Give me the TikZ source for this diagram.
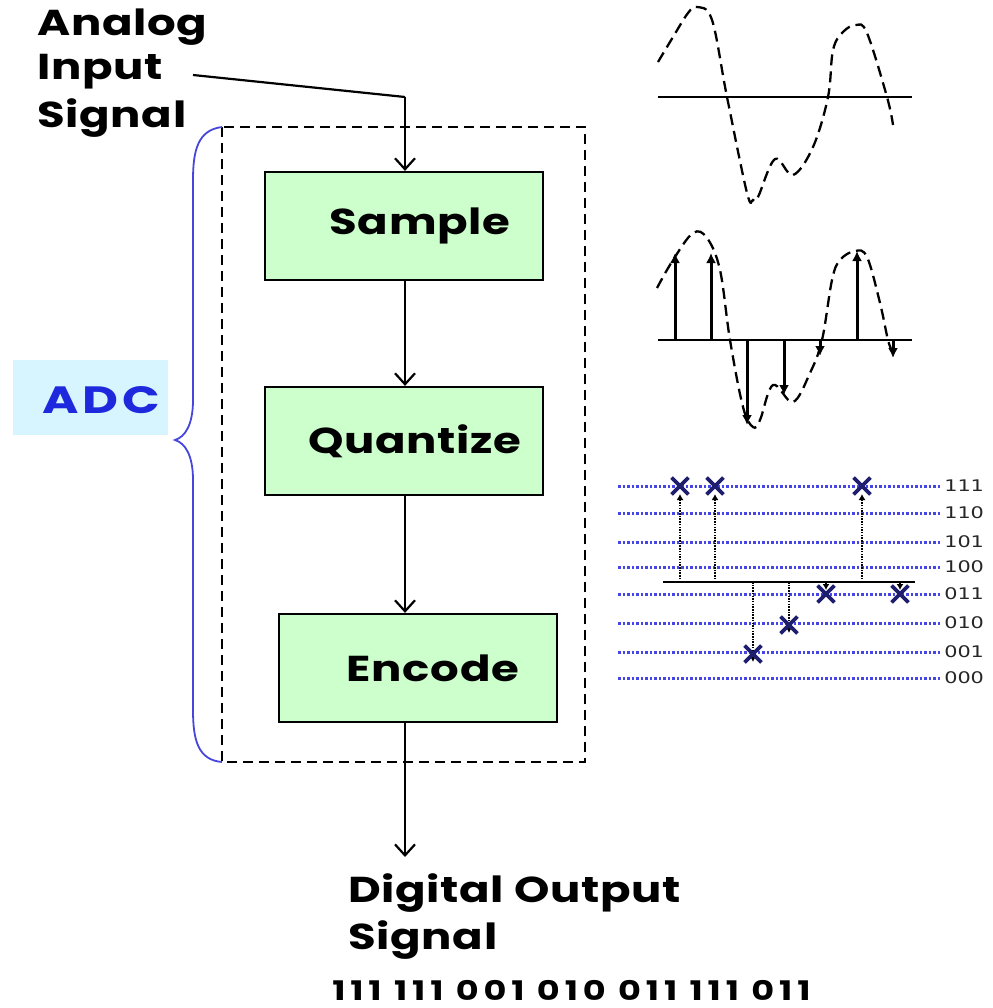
\documentclass[tikz,border=0pt]{standalone}
\usepackage{fontspec}
\setmainfont{Poppins}
\newfontfamily\lab{DejaVu Sans}
\usetikzlibrary{arrows.meta,shapes.misc}
\definecolor{boxgreen}{RGB}{204,255,204}
\definecolor{adcbg}{RGB}{215,245,255}
\definecolor{adcblue}{RGB}{30,40,220}
\definecolor{bracecol}{RGB}{70,70,220}
\definecolor{qblue}{RGB}{70,70,230}
\definecolor{navy}{RGB}{30,30,110}
\tikzset{
  box/.style={draw, line width=2.2pt, fill=boxgreen, minimum width=278pt, minimum height=108pt, inner sep=0pt},
  big/.style={font=\bfseries\fontsize{36}{40}\selectfont\addfontfeatures{LetterSpace=1.5}, xscale=1.25, inner sep=0pt, anchor=west},
  arr/.style={line width=2.2pt, -{Straight Barb[length=11pt,width=20pt,line width=2.2pt]}},
  wave/.style={dash pattern=on 11pt off 6pt, line width=2.3pt},
  axisln/.style={line width=2.3pt},
  stemup/.style={line width=3pt, -{Latex[length=10pt,width=10pt]}},
  qline/.style={qblue, line width=3pt, dash pattern=on 2.5pt off 2pt},
  qarr/.style={line width=2.2pt, dash pattern=on 1.5pt off 1.2pt, -{Latex[length=6pt,width=7pt]}},
  xm/.style={cross out, draw=navy, line width=3.8pt, minimum size=13pt, inner sep=0pt},
  qlab/.style={font=\lab\fontsize{16}{16}\selectfont, xscale=1.3, anchor=west, inner sep=0pt, text=black!85}
}
\begin{document}
\begin{tikzpicture}[x=1pt,y=-1pt]
\useasboundingbox (0,0) rectangle (992,1008);

% Input label
\node[big] (l1) at (37,27) {Analog};
\node[big] (l2) at (37,72) {Input};
\node[big] (l3) at (37,118) {Signal};

% dashed ADC frame
\draw[line width=2.2pt, dash pattern=on 10pt off 6pt] (222,127) rectangle (585,762);

% brace
\draw[bracecol, line width=1.8pt] (222,127) .. controls (198,130) and (193,150) .. (193,180)
  -- (193,400) .. controls (193,425) and (185,437) .. (175,440)
  .. controls (185,443) and (193,455) .. (193,480)
  -- (193,710) .. controls (193,740) and (198,760) .. (222,762);

% ADC label
\node[fill=adcbg, minimum width=155pt, minimum height=75pt, inner sep=0pt] (adcbox) at (90.5,397.5) {};
\node[font=\bfseries\fontsize{38}{40}\selectfont\addfontfeatures{LetterSpace=8}, xscale=1.3, text=adcblue, inner sep=0pt] (adc) at (101,400) {ADC};

% boxes
\node[box] (sample) at (404,226) {};
\node[big, anchor=center] (tsample) at (420,226) {Sample};
\node[box] (quant) at (404,441) {};
\node[big, anchor=center] (tquant) at (415,441) {Quantize};
\node[box] (encode) at (418,668) {};
\node[big, anchor=center] (tencode) at (433,668) {Encode};

% arrows
\coordinate (inStart) at (193,75);
\coordinate (inBend) at (405,97);
\draw[line width=2.2pt] (inStart) -- (inBend);
\draw[arr] (inBend) -- (inBend |- sample.north);
\draw[arr] (sample.south -| inBend) -- (quant.north -| inBend);
\draw[arr] (quant.south -| inBend) -- (encode.north -| inBend);
\coordinate (out) at (405,857);
\draw[arr] (encode.south -| inBend) -- (out);

% output label
\node[big] (o1) at (348,893) {Digital Output};
\node[big] (o2) at (348,940) {Signal};
\node[font=\bfseries\fontsize{27}{30}\selectfont\addfontfeatures{LetterSpace=14}, xscale=1.3, inner sep=0pt, anchor=west] (code) at (332,990) {111 111 001 010 011 111 011};

% graph 1
\draw[axisln] (658,97) -- (912,97);
\draw[wave] plot[smooth, tension=0.6] coordinates {(658,62) (673,37) (688,13) (697,7) (712,20) (727,97) (747,193) (753,200) (758,197) (775,159) (793,175) (813,147) (828,97) (833,50) (843,32) (856,25) (867,33) (887,97) (893,125)};

% graph 2
\draw[axisln] (658,340) -- (912,340);
\draw[wave] plot[smooth, tension=0.6] coordinates {(657,288) (673,260) (693,233) (707,238) (720,270) (730,340) (743,407) (753,427) (760,420) (773,385) (793,402) (810,373) (822,340) (832,280) (840,260) (855,251) (867,257) (880,303) (888,340) (893,353)};
\foreach \x/\y in {675/253, 711/253, 857/251, 747/425, 784/395, 820/356, 893/358}
  \draw[stemup] (\x,340) -- (\x,\y);

% graph 3
\foreach \y/\t in {486/111, 513/110, 542/101, 567/100, 594/011, 623/010, 652/001, 678/000} {
  \draw[qline] (618,\y) -- (940,\y);
  \node[qlab] at (944,\y) {\t};
}
\draw[line width=2.2pt] (663,582) -- (915,582);
\foreach \x/\y in {680/494, 715/494, 862/494, 753/662, 789/633, 826/590, 900/590}
  \draw[qarr] (\x,582) -- (\x,\y);
\foreach \x/\y in {680/486, 715/486, 862/486, 826/594, 900/594, 789/625, 753/654}
  \node[xm] at (\x,\y) {};
\end{tikzpicture}
\end{document}
